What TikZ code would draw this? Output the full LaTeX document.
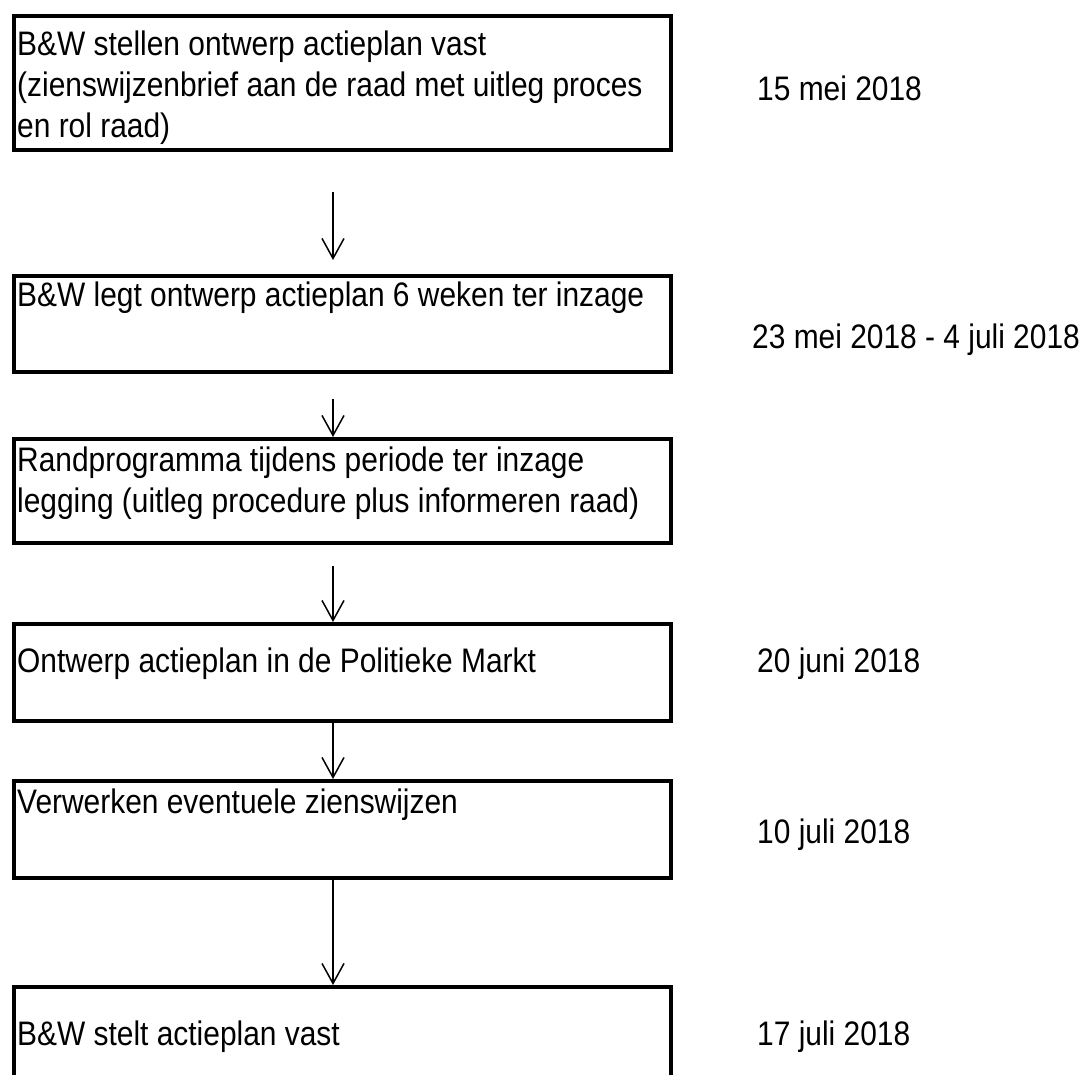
\documentclass[tikz,border=0pt]{standalone}
\usepackage{fontspec}
\setmainfont{Liberation Sans}
\newfontfamily\tallfont[FakeStretch=0.88]{Liberation Sans}
\usetikzlibrary{arrows.meta}
\begin{document}
\begin{tikzpicture}[x=1pt,y=-1pt,
  stepbox/.style={draw=black, line width=4pt, anchor=north west, minimum width=657pt, inner sep=0pt},
  boxtext/.style={anchor=west, align=left, inner sep=0pt, font=\tallfont\fontsize{34pt}{41pt}\selectfont},
  datetext/.style={anchor=west, inner sep=0pt, font=\tallfont\fontsize{34pt}{41pt}\selectfont},
  arr/.style={line width=1.5pt, -{Straight Barb[length=20pt,width=22pt,line width=1.5pt]}}]
\clip (0,0) rectangle (1090,1075);
\fill[white] (0,0) rectangle (1090,1075);
\coordinate (ax) at (333,0);
% boxes
\node[stepbox, minimum height=134pt] (b1) at (12,14) {};
\node[stepbox, minimum height=96pt] (b2) at (12,274) {};
\node[stepbox, minimum height=104pt] (b3) at (12,437) {};
\node[stepbox, minimum height=97pt] (b4) at (12,622) {};
\node[stepbox, minimum height=97pt] (b5) at (12,779) {};
\node[stepbox, minimum height=140pt] (b6) at (12,985) {};
% texts
\node[boxtext] (t1) at (17,88) {B\&W stellen ontwerp actieplan vast\\(zienswijzenbrief aan de raad met uitleg proces\\en rol raad)};
\node[boxtext] (t2) at (17,298) {B\&W legt ontwerp actieplan 6 weken ter inzage};
\node[boxtext] (t3) at (17,483) {Randprogramma tijdens periode ter inzage\\legging (uitleg procedure plus informeren raad)};
\node[boxtext] (t4) at (17,664) {Ontwerp actieplan in de Politieke Markt};
\node[boxtext] (t5) at (17,805) {Verwerken eventuele zienswijzen};
\node[boxtext] (t6) at (17,1037) {B\&W stelt actieplan vast};
% dates
\node[datetext] (d1) at (757,88) {15 mei 2018};
\node[datetext] (d2) at (752,340) {23 mei 2018 - 4 juli 2018};
\node[datetext] (d4) at (757,664) {20 juni 2018};
\node[datetext] (d5) at (757,835) {10 juli 2018};
\node[datetext] (d6) at (757,1037) {17 juli 2018};
% arrows
\draw[arr, shorten <=40pt, shorten >=14pt] (b1.south -| ax) -- (b2.north -| ax);
\draw[arr, shorten <=25pt] (b2.south -| ax) -- (b3.north -| ax);
\draw[arr, shorten <=21pt] (b3.south -| ax) -- (b4.north -| ax);
\draw[arr] (b4.south -| ax) -- (b5.north -| ax);
\draw[arr] (b5.south -| ax) -- (b6.north -| ax);
\end{tikzpicture}
\end{document}
